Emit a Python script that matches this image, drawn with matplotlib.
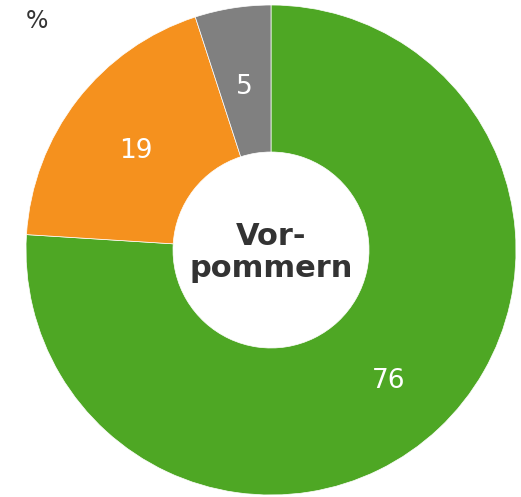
import matplotlib.pyplot as plt

# shares in percent, clockwise from 12 o'clock
labels = ['76', '19', '5']
values = [76, 19, 5]
colors = ['#4ea724', '#f5911e', '#808080']
center_text = 'Vor-\npommern'

W, H = 521, 497
fig = plt.figure(figsize=(W / 100, H / 100), dpi=100)
cx, cy, r = 271, 250, 245
ax = fig.add_axes([(cx - r) / W, (H - cy - r) / H, 2 * r / W, 2 * r / H])

wedges, texts = ax.pie(values, labels=labels, colors=colors, startangle=90,
                       counterclock=False, radius=1, labeldistance=0.70,
                       wedgeprops=dict(width=0.6, edgecolor='white', linewidth=0.5),
                       textprops=dict(color='white', fontsize=19, ha='center',
                                      va='center_baseline'))
# nudge the numbers a touch lower, like the original
for t in texts:
    x, y = t.get_position()
    t.set_position((x, y - 0.014))
ax.set_xlim(-1, 1)
ax.set_ylim(-1, 1)

ax.text(0, -0.01, center_text, ha='center', va='center', fontsize=22,
        fontweight='bold', color='#333333', linespacing=1.15)
fig.text(26 / W, 1 - 21 / H, '%', ha='left', va='center', fontsize=17,
         color='#333333')

fig.savefig('out.png', dpi=100)
